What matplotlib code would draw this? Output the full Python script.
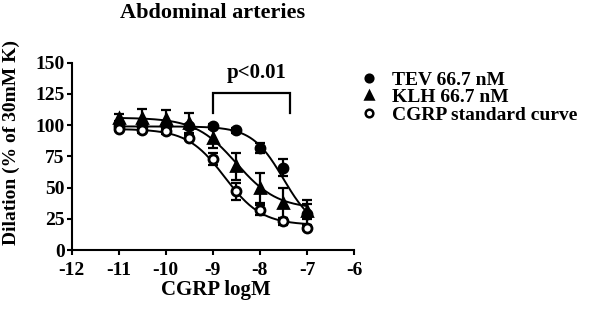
import numpy as np
import matplotlib
matplotlib.use("Agg")
import matplotlib.pyplot as plt
from matplotlib.lines import Line2D

plt.rcParams["font.family"] = ["Liberation Serif", "DejaVu Serif"]
plt.rcParams["font.weight"] = "bold"
plt.rcParams["axes.unicode_minus"] = False

# concentrations (log M)
logc = [-11, -10.5, -10, -9.5, -9, -8.5, -8, -7.5, -7]

# mean dilation (% of 30 mM K) and SEM
tev = [99, 99, 99, 99, 99, 96, 82, 66, 29]
tev_err = [2, 2, 2, 2, 2, 2, 4, 7, 11]
klh = [106, 106, 105, 102, 90, 67, 50, 38, 31]
klh_err = [3, 7, 7, 8, 8, 11, 12, 12, 6]
cgrp = [97, 96, 95, 90, 73, 47, 32, 23, 18]
cgrp_err = [2, 2, 2, 2, 5, 7, 4, 3, 2]

# 4-parameter logistic fit parameters: top, bottom, logEC50, hill
fit_tev = (99, 15, -7.5, 1.3)
fit_klh = (106, 33, -8.5, 1.0)
fit_cgrp = (97, 20, -8.75, 1.1)


def logistic(x, p):
    top, bot, ec50, h = p
    return bot + (top - bot) / (1 + 10 ** (h * (x - ec50)))


fig = plt.figure(figsize=(5.96, 3.10), dpi=100)
ax = fig.add_axes([0.1203, 0.1935, 0.4737, 0.604])

xs = np.linspace(-11, -7, 200)
series = [
    (tev, tev_err, fit_tev, "o", "black", "TEV 66.7 nM"),
    (klh, klh_err, fit_klh, "^", "black", "KLH 66.7 nM"),
    (cgrp, cgrp_err, fit_cgrp, "o", "white", "CGRP standard curve"),
]
handles = []
for y, e, p, m, fc, lab in series:
    ax.plot(xs, logistic(xs, p), color="black", lw=1.4, zorder=2)
    ax.errorbar(logc, y, yerr=e, fmt="none", ecolor="black", elinewidth=1.6,
                capsize=3.8, capthick=1.6, zorder=3)
    ax.plot(logc, y, ls="none", marker=m, ms=6.5, mfc=fc, mec="black",
            mew=2, zorder=4)
    handles.append(Line2D([], [], ls="none", marker=m, ms=5.5, mfc=fc,
                          mec="black", mew=1.8, label=lab))

# significance bracket
ax.plot([-9, -9, -7.37, -7.37], [109.6, 125.6, 125.6, 109.6],
        color="black", lw=1.6, solid_joinstyle="miter")
ax.text(-8.08, 141.6, "p<0.01", ha="center", va="center", fontsize=15,
        fontweight="bold")

ax.set_xlim(-12, -6)
ax.set_ylim(0, 150)
ax.set_xticks(range(-12, -5))
ax.set_yticks(range(0, 151, 25))
for s in ["top", "right"]:
    ax.spines[s].set_visible(False)
for s in ["left", "bottom"]:
    ax.spines[s].set_linewidth(1.5)
ax.tick_params(width=1.5, length=3.6, labelsize=14)
ax.tick_params(axis="y", pad=1.5)
ax.tick_params(axis="x", pad=5)
for t in ax.get_xticklabels() + ax.get_yticklabels():
    t.set_fontweight("bold")
ax.set_xlabel("CGRP logM", fontsize=15, fontweight="bold", va="center")
ax.xaxis.set_label_coords(0.511, -0.214)
ax.set_ylabel("Dilation (% of 30mM K)", fontsize=14, fontweight="bold",
              va="center")
ax.yaxis.set_label_coords(-0.215, 0.575)
fig.text(0.356, 0.942, "Abdominal arteries", ha="center", va="baseline",
         fontsize=16, fontweight="bold")

fig.legend(handles=handles, loc="upper left", bbox_to_anchor=(0.603, 0.771),
           frameon=False, prop={"size": 14, "weight": "bold"},
           borderpad=0, borderaxespad=0, handletextpad=0.7,
           labelspacing=0.0, handlelength=1.0)

fig.savefig("out.png", dpi=100)
